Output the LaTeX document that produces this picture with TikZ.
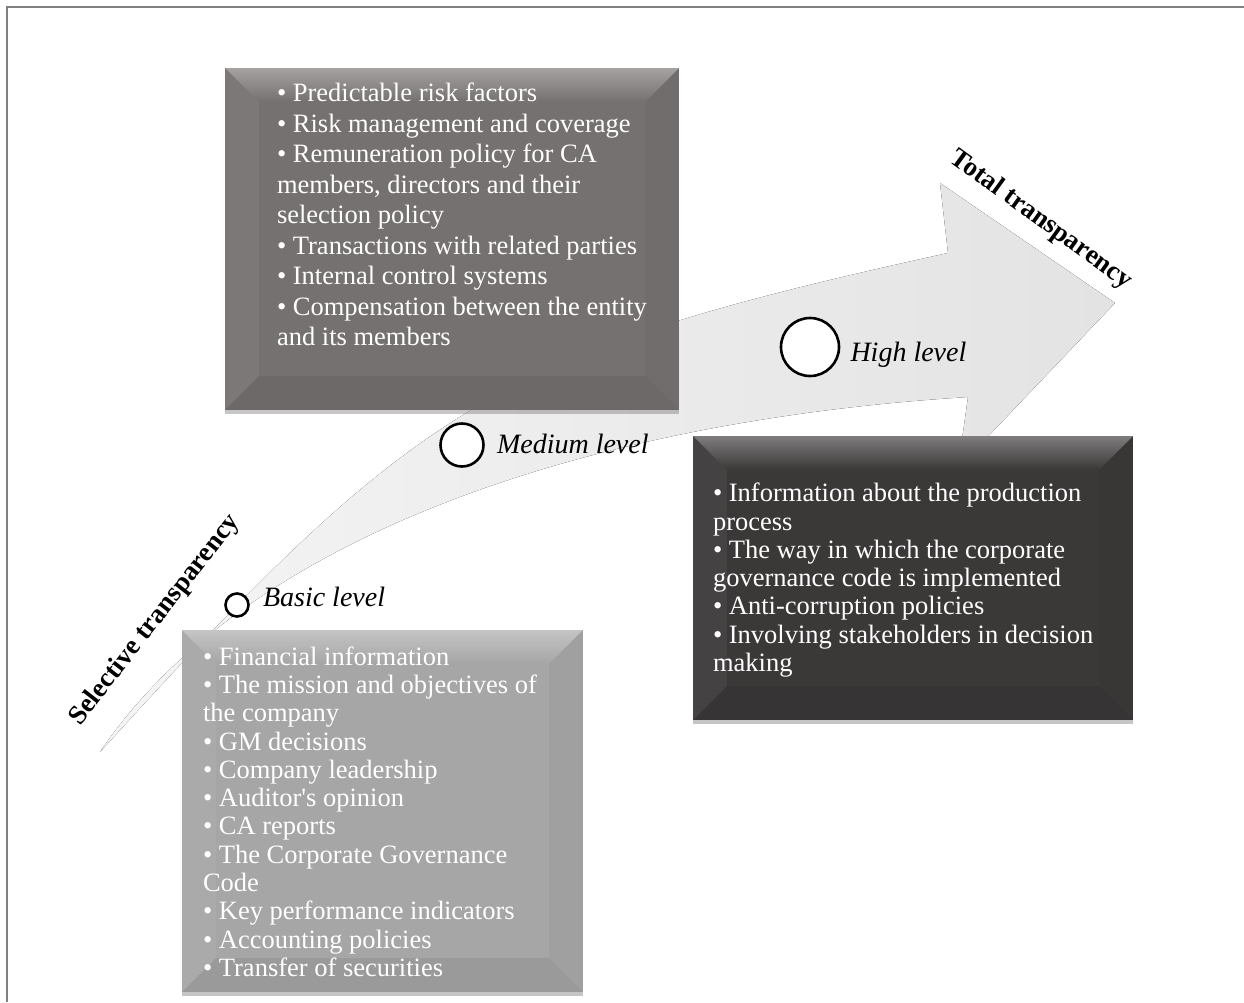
\documentclass[tikz,border=0pt]{standalone}
\usepackage{fontspec}
\setmainfont{Liberation Serif}
\usepackage{xcolor}
\usetikzlibrary{calc,shadows,fadings}

\definecolor{boxmid}{RGB}{118,113,113}
\definecolor{boxdark}{RGB}{59,56,56}
\definecolor{boxlight}{RGB}{166,166,166}
\definecolor{framegray}{RGB}{128,128,128}

% Bevel look for the boxes (lit on top, dark at the bottom).
\newcommand{\bevel}[1]{%
  \fill[white,fill opacity=.35,path fading=south] (#1.north west) -- (#1.north east) -- ($(#1.north east)+(-34,34)$) -- ($(#1.north west)+(34,34)$) -- cycle;
  \fill[white,fill opacity=.05] (#1.north west) -- ($(#1.north west)+(34,34)$) -- ($(#1.south west)+(34,-34)$) -- (#1.south west) -- cycle;
  \fill[black,fill opacity=.03] (#1.north east) -- ($(#1.north east)+(-34,34)$) -- ($(#1.south east)+(-34,-34)$) -- (#1.south east) -- cycle;
  \fill[black,fill opacity=.07] (#1.south west) -- ($(#1.south west)+(34,-34)$) -- ($(#1.south east)+(-34,-34)$) -- (#1.south east) -- cycle;}

\begin{document}
\begin{tikzpicture}[x=1pt,y=-1pt]
% Pixel coordinates, y going down.

\tikzstyle{infobox}=[rectangle,inner sep=0pt,drop shadow={shadow xshift=0pt,shadow yshift=-4pt,opacity=.45}]
\tikzstyle{infotext}=[anchor=north west,inner sep=0pt,align=left,text=white]
\tikzstyle{lvl}=[circle,draw=black,line width=2.6pt,fill=white,inner sep=0pt]
\tikzstyle{lvltext}=[anchor=base west,inner sep=0pt,font=\fontsize{28}{30}\selectfont\itshape]
\tikzstyle{stage}=[inner sep=0pt,font=\fontsize{27}{29}\selectfont\bfseries]

\useasboundingbox (0,0) rectangle (1244,1002);

% This draws the frame.
\draw[framegray,line width=2.5pt] (7,1002) -- (7,7) -- (1244,7);

% This draws the big curved arrow.
\fill[left color=gray!8,right color=gray!22] (100,752) .. controls (420,400) and (498,352) .. (948,253)
  -- (940,183) -- (1115,303) -- (958,468) -- (968,397)
  .. controls (600,420) and (250,530) .. (100,752) -- cycle;

% This draws the boxes.
\node[infobox,fill=boxmid,minimum width=454pt,minimum height=342pt] (B1) at (452,239) {};
\bevel{B1}
\node[infobox,fill=boxdark,minimum width=440pt,minimum height=284pt] (B2) at (913,578) {};
\bevel{B2}
\node[infobox,fill=boxlight,minimum width=401pt,minimum height=362pt] (B3) at (382.5,811) {};
\bevel{B3}

% This writes the items.
\node[infotext,font=\fontsize{26.5}{30.5}\selectfont] (T1) at ($(B1.north west)+(52,13.7)$)
  {\rule{0pt}{20pt}• Predictable risk factors\\
   • Risk management and coverage\\
   • Remuneration policy for CA\\
   members, directors and their\\
   selection policy\\
   • Transactions with related parties\\
   • Internal control systems\\
   • Compensation between the entity\\
   and its members};
\node[infotext,font=\fontsize{26.5}{28.3}\selectfont] (T2) at ($(B2.north west)+(20,45.7)$)
  {\rule{0pt}{20pt}• Information about the production\\
   process\\
   • The way in which the corporate\\
   governance code is implemented\\
   • Anti-corruption policies\\
   • Involving stakeholders in decision\\
   making};
\node[infotext,font=\fontsize{26.5}{28.33}\selectfont] (T3) at ($(B3.north west)+(21,15)$)
  {\rule{0pt}{20pt}• Financial information\\
   • The mission and objectives of\\
   the company\\
   • GM decisions\\
   • Company leadership\\
   • Auditor\textquotesingle s opinion\\
   • CA reports\\
   • The Corporate Governance\\
   Code\\
   • Key performance indicators\\
   • Accounting policies\\
   • Transfer of securities};

% This draws the levels.
\node[lvl,minimum size=23pt] (L1) at (237,605) {};
\node[lvltext] (L1t) at ($(L1.east)+(13,1)$) {Basic level};
\node[lvl,minimum size=43pt] (L2) at (462,445) {};
\node[lvltext] (L2t) at ($(L2.east)+(12,8)$) {Medium level};
\node[lvl,minimum size=58pt] (L3) at (810,347) {};
\node[lvltext] (L3t) at ($(L3.east)+(10,14)$) {High level};

% This writes the two ends of the scale.
\node[stage,rotate=52] (ST) at (155,620) {Selective transparency};
\node[stage,rotate=-36] (TT) at (1041,220) {Total transparency};
\end{tikzpicture}
\end{document}
